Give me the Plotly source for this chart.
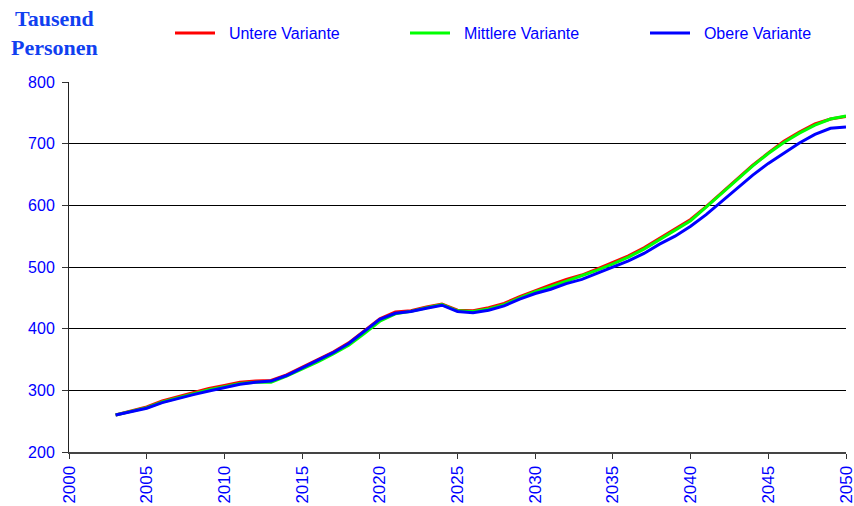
import plotly.graph_objects as go

years = list(range(2003, 2051))

untere = [260, 267, 273, 283, 290, 297, 303, 308, 313, 315, 316, 325, 337, 349, 362, 377,
          396, 416, 427, 429, 435, 440, 430, 429, 434, 441, 452, 462, 471, 480, 487, 497,
          507, 518, 531, 546, 561, 577, 598, 620, 643, 665, 685, 704, 719, 732, 740, 744]

mittlere = [260, 266, 272, 281, 288, 295, 301, 306, 311, 313, 313, 323, 334, 346, 359, 373,
            392, 412, 424, 428, 434, 439, 429, 428, 432, 439, 450, 460, 468, 477, 485, 495,
            505, 516, 529, 544, 559, 575, 597, 619, 642, 664, 684, 702, 717, 730, 740, 745]

obere = [260, 266, 271, 280, 287, 293, 299, 305, 310, 313, 315, 324, 336, 348, 361, 376,
         395, 415, 425, 428, 433, 438, 428, 426, 430, 437, 448, 457, 464, 473, 480, 490,
         500, 510, 522, 537, 550, 566, 585, 606, 628, 649, 668, 685, 701, 715, 725, 727]

tick_years = list(range(2000, 2051, 5))

series = [("Untere Variante", untere, "#FF0000", "legend"),
          ("Mittlere Variante", mittlere, "#00FF00", "legend2"),
          ("Obere Variante", obere, "#0000FF", "legend3")]

L, R, T, B = 69, 8, 82, 54
W, H = 854, 506
pw = W - L - R
ph = H - T - B

fig = go.Figure()
for name, vals, col, lg in series:
    fig.add_trace(go.Scatter(x=years, y=vals, mode="lines", name="\u00a0\u00a0" + name, legend=lg,
                             line=dict(color=col, width=3)))

leg_font = dict(family="Liberation Sans, Arial", size=16, color="#0000FF")

def leg(px_left):
    return dict(x=(px_left - L) / pw, y=1 + (T - 33) / ph, xanchor="left", yanchor="middle",
                font=leg_font, bgcolor="rgba(0,0,0,0)", itemwidth=40)

fig.update_layout(
    width=W, height=H,
    margin=dict(l=L, r=R, t=T, b=B, autoexpand=False),
    plot_bgcolor="white", paper_bgcolor="white",
    showlegend=True,
    legend=leg(170), legend2=leg(405), legend3=leg(645),
    xaxis=dict(range=[2000, 2050.0001], tickmode="array", tickvals=tick_years,
               ticktext=[str(y) for y in tick_years],
               tickangle=-90, ticklabeloverflow="allow",
               tickfont=dict(family="Liberation Sans, Arial", size=17, color="#0000FF"),
               showgrid=False, automargin=False,
               ticks="outside", ticklen=5, tickcolor="#333", showline=True,
               linecolor="#444", linewidth=2, zeroline=False),
    yaxis=dict(range=[200, 800], tickmode="linear", tick0=200, dtick=100,
               tickfont=dict(family="Liberation Sans, Arial", size=16, color="#0000FF"),
               ticklabelstandoff=4,
               showgrid=True, gridcolor="black", gridwidth=1, automargin=False,
               ticks="outside", ticklen=6, tickcolor="#333", showline=True,
               linecolor="#222", linewidth=1, zeroline=False),
)
fig.add_annotation(text="<b>Tausend<br>Personen</b>", xref="paper", yref="paper",
                   x=(54 - L) / pw, y=1 + (T - 33) / ph, xanchor="center", yanchor="middle",
                   showarrow=False, align="center",
                   font=dict(family="Liberation Serif, Times New Roman", size=22, color="#1040F0"))

fig.write_html("out.html", config={"displayModeBar": False},
               post_script="document.body.style.margin='0';document.body.style.overflow='hidden';")
